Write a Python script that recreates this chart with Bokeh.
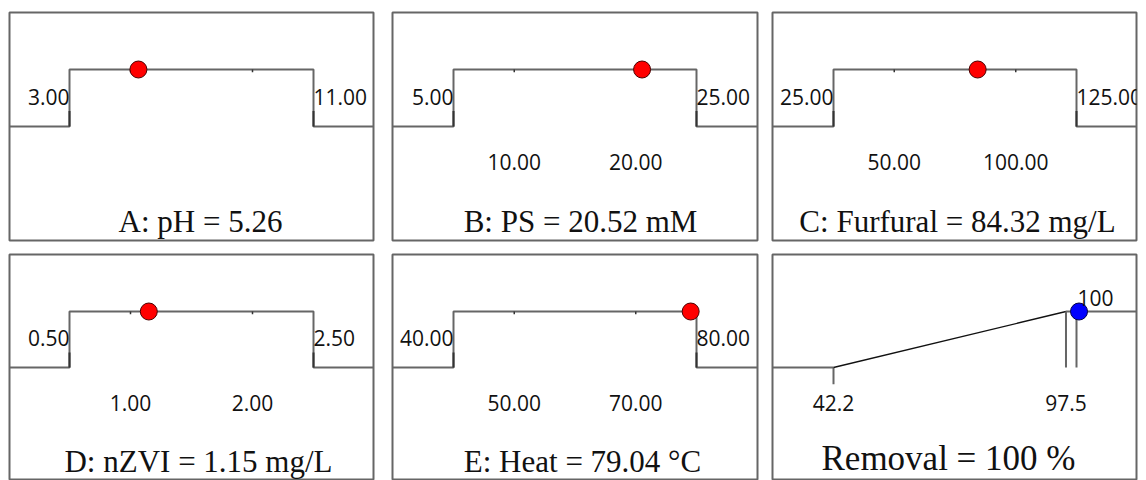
from bokeh.plotting import figure
from bokeh.layouts import row, column
from bokeh.models import Label
from bokeh.embed import file_html
from bokeh.resources import INLINE

# ---------------- data ----------------
factor_names = ["A: pH", "B: PS", "C: Furfural", "D: nZVI", "E: Heat"]
factor_units = ["", " mM", " mg/L", " mg/L", " \u00b0C"]
factor_low = [3.00, 5.00, 25.00, 0.50, 40.00]
factor_high = [11.00, 25.00, 125.00, 2.50, 80.00]
factor_opt = [5.26, 20.52, 84.32, 1.15, 79.04]
factor_ticks = [[5, 9], [10, 20], [50, 100], [1, 2], [50, 70]]
factor_tick_labels = [[], ["10.00", "20.00"], ["50.00", "100.00"], ["1.00", "2.00"], ["50.00", "70.00"]]

resp_name = "Removal"
resp_low = 42.2
resp_high = 97.5
resp_axis_max = 100.0
resp_pred = 100.6
resp_shown = "100"
resp_unit = " %"

# ---------------- layout constants ----------------
LINE = "#666666"
TICK = "#333333"
TXT = "#111111"
SANS = "Open Sans"
SERIF = "Liberation Serif"
NUM_SIZE = "21px"
TITLE_SIZE = "31px"

# per panel column: frame width, offset(px) of low bound, offset of high bound, borders l/r
cols = [
    dict(fw=364, lo_off=60, hi_off=304, bl=9, br=9),
    dict(fw=365, lo_off=61, hi_off=304, bl=10, br=7),
    dict(fw=364, lo_off=61, hi_off=304, bl=8, br=10),
]
rows_cfg = [
    dict(fh=228, top_px=57, low_px=114, bt=12, bb=7),
    dict(fh=226, top_px=57, low_px=113, bt=7, bb=0),
]
title_off = [191, 188, 185, 189, 190, 176]


def make_fig(ci, ri, lo, hi):
    c = cols[ci]
    r = rows_cfg[ri]
    sx = (hi - lo) / (c["hi_off"] - c["lo_off"])
    x0 = lo - c["lo_off"] * sx
    x1 = x0 + c["fw"] * sx
    sy = 1.0 / (r["low_px"] - r["top_px"])
    y1 = 1 + r["top_px"] * sy
    y0 = -(r["fh"] - r["low_px"]) * sy
    p = figure(width=c["fw"] + c["bl"] + c["br"], height=r["fh"] + r["bt"] + r["bb"],
               x_range=(x0, x1), y_range=(y0, y1), output_backend="svg",
               toolbar_location=None, title=None,
               min_border_left=c["bl"], min_border_right=c["br"],
               min_border_top=r["bt"], min_border_bottom=r["bb"])
    p.xaxis.visible = False
    p.yaxis.visible = False
    p.grid.visible = False
    p.outline_line_color = LINE
    p.outline_line_width = 2
    p.background_fill_color = "white"
    p.border_fill_color = "white"
    return p, x0, x1, sx


figs = []
for i in range(5):
    ci, ri = i % 3, i // 3
    lo, hi, opt = factor_low[i], factor_high[i], factor_opt[i]
    p, x0, x1, sx = make_fig(ci, ri, lo, hi)
    # step (ramp) line
    p.line([x0, lo, lo, hi, hi, x1], [0, 0, 1, 1, 0, 0], line_color=LINE, line_width=2)
    # stubs at bounds
    p.segment(x0=[lo, hi], y0=[0, 0], x1=[lo, hi], y1=[0.27, 0.27], line_color=TICK, line_width=2)
    # minor ticks on plateau
    tk = factor_ticks[i]
    p.segment(x0=tk, y0=[1] * len(tk), x1=tk, y1=[0.95] * len(tk), line_color=TICK, line_width=1.5)
    # bound labels
    p.add_layout(Label(x=lo, y=0.52, text=f"{lo:.2f}", text_align="right", text_baseline="middle",
                       text_font=SANS, text_font_size=NUM_SIZE, text_color=TXT))
    p.add_layout(Label(x=hi, y=0.52, text=f"{hi:.2f}", text_align="left", text_baseline="middle",
                       x_offset=0, text_font=SANS, text_font_size=NUM_SIZE, text_color=TXT))
    # tick labels
    for t, lab in zip(tk, factor_tick_labels[i]):
        p.add_layout(Label(x=t, y=-0.63, text=lab, text_align="center", text_baseline="middle",
                           text_font=SANS, text_font_size=NUM_SIZE, text_color=TXT))
    # optimum point
    p.scatter([opt], [1], size=17, fill_color="#ff0000", line_color="#4a0000", line_width=1)
    # title
    p.add_layout(Label(x=x0 + title_off[i] * sx, y=-1.67,
                       text=f"{factor_names[i]} = {opt:.2f}{factor_units[i]}",
                       text_align="center", text_baseline="middle",
                       text_font=SERIF, text_font_size=TITLE_SIZE, text_color=TXT))
    figs.append(p)

# response panel
p, x0, x1, sx = make_fig(2, 1, resp_low, resp_axis_max)
p.line([x0, resp_low], [0, 0], line_color=LINE, line_width=2)
p.segment(x0=[resp_low], y0=[0], x1=[resp_low], y1=[-0.3], line_color=LINE, line_width=2)
p.line([resp_low, resp_high], [0, 1], line_color="#111111", line_width=1.3)
p.line([resp_high, x1], [1, 1], line_color=LINE, line_width=2)
p.segment(x0=[resp_high, resp_axis_max], y0=[1, 1], x1=[resp_high, resp_axis_max], y1=[0, 0],
          line_color=LINE, line_width=2)
for v in [resp_low, resp_high]:
    p.add_layout(Label(x=v, y=-0.64, text=f"{v:.1f}", text_align="center", text_baseline="middle",
                       text_font=SANS, text_font_size=NUM_SIZE, text_color=TXT))
p.add_layout(Label(x=resp_axis_max, y=1.25, text=resp_shown, text_align="left", text_baseline="middle",
                   x_offset=1, text_font=SANS, text_font_size=NUM_SIZE, text_color=TXT))
p.scatter([resp_pred], [1], size=17, fill_color="#0000ff", line_color="#00004a", line_width=1)
p.add_layout(Label(x=x0 + title_off[5] * sx, y=-1.62, text=f"{resp_name} = {resp_shown}{resp_unit}",
                   text_align="center", text_baseline="middle",
                   text_font=SERIF, text_font_size="35px", text_color=TXT))
figs.append(p)

layout = column(row(figs[0], figs[1], figs[2]), row(figs[3], figs[4], figs[5]))
open("out.html", "w").write(file_html(layout, INLINE))
